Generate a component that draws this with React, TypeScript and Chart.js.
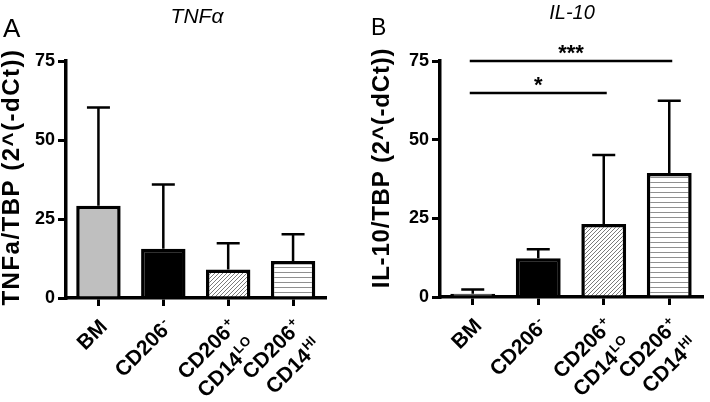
import React, { useEffect, useRef } from 'react';
import { Chart, registerables } from 'chart.js';

Chart.register(...registerables);

// ---- data ----
const categories = ['BM', 'CD206-', 'CD206+ CD14LO', 'CD206+ CD14HI'];
// label lines: [main text, superscript]
const labelLines: [string, string][][] = [
  [['BM', '']],
  [['CD206', '-']],
  [['CD206', '+'], ['CD14', 'LO']],
  [['CD206', '+'], ['CD14', 'HI']],
];
const tnfMean = [29.2, 15.6, 9.0, 11.7];
const tnfSD = [31.1, 20.3, 8.3, 8.5];
const il10Mean = [1.0, 12.3, 23.2, 39.4];
const il10SD = [1.4, 2.9, 21.9, 23.0];
const yMin = 0;
const yMax = 75;
const yStep = 25;
const sigFrom = [0, 0];
const sigTo = [3, 2];
const sigLevel = [75, 64.8];
const sigText = ['***', '*'];

const FONT = "'Liberation Sans', Arial, Helvetica, sans-serif";

function makeDiag(): CanvasPattern | string {
  const c = document.createElement('canvas');
  c.width = 4;
  c.height = 4;
  const g = c.getContext('2d');
  if (!g) return '#ccc';
  g.fillStyle = '#fff';
  g.fillRect(0, 0, 4, 4);
  g.strokeStyle = '#7a7a7a';
  g.lineWidth = 1;
  g.beginPath();
  g.moveTo(-1, 5);
  g.lineTo(5, -1);
  g.moveTo(-1, 1);
  g.lineTo(1, -1);
  g.moveTo(3, 5);
  g.lineTo(5, 3);
  g.stroke();
  const p = g.createPattern(c, 'repeat');
  return p || '#ccc';
}

function makeHoriz(): CanvasPattern | string {
  const c = document.createElement('canvas');
  c.width = 4;
  c.height = 5;
  const g = c.getContext('2d');
  if (!g) return '#eee';
  g.fillStyle = '#fff';
  g.fillRect(0, 0, 4, 5);
  g.fillStyle = '#8f8f8f';
  g.fillRect(0, 2, 4, 1);
  const p = g.createPattern(c, 'repeat');
  return p || '#eee';
}

type PanelCfg = {
  letter: string;
  letterX: number;
  letterBase: number;
  letterSize: number;
  title: string;
  titleX: number;
  titleBase: number;
  titleSize: number;
  yTitle: string;
  yTitleX: number;
  yTitleY: number;
  yTitleSpacing: number;
  means: number[];
  sds: number[];
  left: number;
  right: number;
  bottom: number;
  sig: boolean;
};

const W = 355;
const H = 402;

function Panel({ cfg }: { cfg: PanelCfg }) {
  const ref = useRef<HTMLCanvasElement | null>(null);
  useEffect(() => {
    const canvas = ref.current;
    if (!canvas) return;
    const fills = ['#bfbfbf', '#000000', makeDiag(), makeHoriz()];

    const overlay = {
      id: 'overlay_' + cfg.letter,
      afterDatasetsDraw(chart: any) {
        const ctx = chart.ctx;
        const xs = chart.scales.x;
        const ys = chart.scales.y;
        ctx.save();
        ctx.strokeStyle = '#000';
        ctx.lineWidth = 2.5;
        cfg.means.forEach((m, i) => {
          const x = xs.getPixelForValue(i);
          const y0 = ys.getPixelForValue(m);
          const y1 = ys.getPixelForValue(m + cfg.sds[i]);
          ctx.beginPath();
          ctx.moveTo(x, y0);
          ctx.lineTo(x, y1);
          ctx.moveTo(x - 11.5, y1);
          ctx.lineTo(x + 11.5, y1);
          ctx.stroke();
        });
        ctx.restore();
      },
      afterDraw(chart: any) {
        const ctx = chart.ctx;
        const xs = chart.scales.x;
        const ys = chart.scales.y;
        const area = chart.chartArea;
        ctx.save();
        ctx.fillStyle = '#000';
        // panel letter
        ctx.font = `${cfg.letterSize}px ${FONT}`;
        ctx.textAlign = 'left';
        ctx.textBaseline = 'alphabetic';
        ctx.fillText(cfg.letter, cfg.letterX, cfg.letterBase);
        // title
        ctx.font = `italic ${cfg.titleSize}px ${FONT}`;
        ctx.textAlign = 'center';
        ctx.fillText(cfg.title, cfg.titleX, cfg.titleBase);
        // y title
        ctx.save();
        ctx.translate(cfg.yTitleX, cfg.yTitleY);
        ctx.rotate(-Math.PI / 2);
        ctx.font = `bold 24px ${FONT}`;
        try {
          (ctx as any).letterSpacing = cfg.yTitleSpacing + 'px';
        } catch (e) {
          /* ignore */
        }
        ctx.textAlign = 'center';
        ctx.textBaseline = 'middle';
        ctx.fillText(cfg.yTitle, 0, 0);
        try {
          (ctx as any).letterSpacing = '0px';
        } catch (e) {
          /* ignore */
        }
        ctx.restore();
        // x labels
        const mainFont = `bold 21px ${FONT}`;
        const supFont = `bold 13px ${FONT}`;
        const lh = 27;
        labelLines.forEach((lines, i) => {
          const tx = xs.getPixelForValue(i);
          ctx.save();
          ctx.translate(tx + 10, area.bottom + 30);
          ctx.rotate(-Math.PI / 4);
          ctx.textBaseline = 'alphabetic';
          lines.forEach(([main, sup], k) => {
            const yy = k * lh;
            ctx.font = supFont;
            const sw = sup ? ctx.measureText(sup).width + 1 : 0;
            if (sup) {
              ctx.textAlign = 'right';
              ctx.fillText(sup, 0, yy - 8);
            }
            ctx.font = mainFont;
            ctx.textAlign = 'right';
            ctx.fillText(main, -sw, yy);
          });
          ctx.restore();
        });
        // significance
        if (cfg.sig) {
          ctx.strokeStyle = '#000';
          ctx.lineWidth = 2.5;
          sigLevel.forEach((lv, j) => {
            const x0 = xs.getPixelForValue(sigFrom[j]) - 3;
            const x1 = xs.getPixelForValue(sigTo[j]) + 3;
            const y = ys.getPixelForValue(lv);
            ctx.beginPath();
            ctx.moveTo(x0, y);
            ctx.lineTo(x1, y);
            ctx.stroke();
            ctx.font = `bold 22px ${FONT}`;
            ctx.textAlign = 'center';
            ctx.textBaseline = 'alphabetic';
            ctx.fillText(sigText[j], (x0 + x1) / 2, y - 1);
          });
        }
        ctx.restore();
      },
    };

    const chart = new Chart(canvas, {
      type: 'bar',
      data: {
        labels: categories,
        datasets: [
          {
            data: cfg.means,
            backgroundColor: fills as any,
            borderColor: '#000',
            borderWidth: 3.5,
            borderSkipped: 'start',
            categoryPercentage: 1,
            barPercentage: 0.685,
          },
        ],
      },
      options: {
        responsive: false,
        animation: false,
        devicePixelRatio: 1,
        layout: {
          padding: { left: 0, right: W - cfg.right, top: 61, bottom: H - cfg.bottom },
        },
        plugins: {
          legend: { display: false },
          tooltip: { enabled: false },
          title: { display: false },
        },
        scales: {
          x: {
            type: 'category',
            offset: true,
            z: 1,
            ticks: { display: false },
            grid: {
              offset: false,
              drawOnChartArea: false,
              drawTicks: true,
              tickLength: 8,
              color: '#000',
              lineWidth: 3,
            },
            border: { display: true, color: '#000', width: 3.5 },
            afterFit: (s: any) => {
              s.height = 0;
            },
          },
          y: {
            min: yMin,
            max: yMax,
            ticks: {
              stepSize: yStep,
              color: '#000',
              padding: 3,
              font: { family: FONT, size: 18, weight: 'bold' },
            },
            grid: {
              drawOnChartArea: false,
              drawTicks: true,
              tickLength: 8,
              color: '#000',
              lineWidth: 3,
            },
            border: { display: true, color: '#000', width: 3.5 },
            afterFit: (s: any) => {
              s.width = cfg.left;
            },
          },
        },
      } as any,
      plugins: [overlay],
    });
    return () => chart.destroy();
  }, [cfg]);
  return <canvas ref={ref} width={W} height={H} style={{ display: 'block', width: W, height: H }} />;
}

const panelA: PanelCfg = {
  letter: 'A',
  letterX: 3,
  letterBase: 37,
  letterSize: 26,
  title: 'TNFα',
  titleX: 197,
  titleBase: 23,
  titleSize: 21,
  yTitle: 'TNFa/TBP (2^(-dCt))',
  yTitleX: 12,
  yTitleY: 177,
  yTitleSpacing: 1.5,
  means: tnfMean,
  sds: tnfSD,
  left: 66,
  right: 325.5,
  bottom: 298,
  sig: false,
};

const panelB: PanelCfg = {
  letter: 'B',
  letterX: 16,
  letterBase: 35,
  letterSize: 23,
  title: 'IL-10',
  titleX: 217,
  titleBase: 19,
  titleSize: 20,
  yTitle: 'IL-10/TBP (2^(-dCt))',
  yTitleX: 27,
  yTitleY: 168,
  yTitleSpacing: 0.8,
  means: il10Mean,
  sds: il10SD,
  left: 85,
  right: 347,
  bottom: 297,
  sig: true,
};

export default function App() {
  return (
    <div
      style={{
        position: 'absolute',
        left: 0,
        top: 0,
        width: 710,
        height: 402,
        display: 'flex',
        background: '#fff',
      }}
    >
      <Panel cfg={panelA} />
      <Panel cfg={panelB} />
    </div>
  );
}
